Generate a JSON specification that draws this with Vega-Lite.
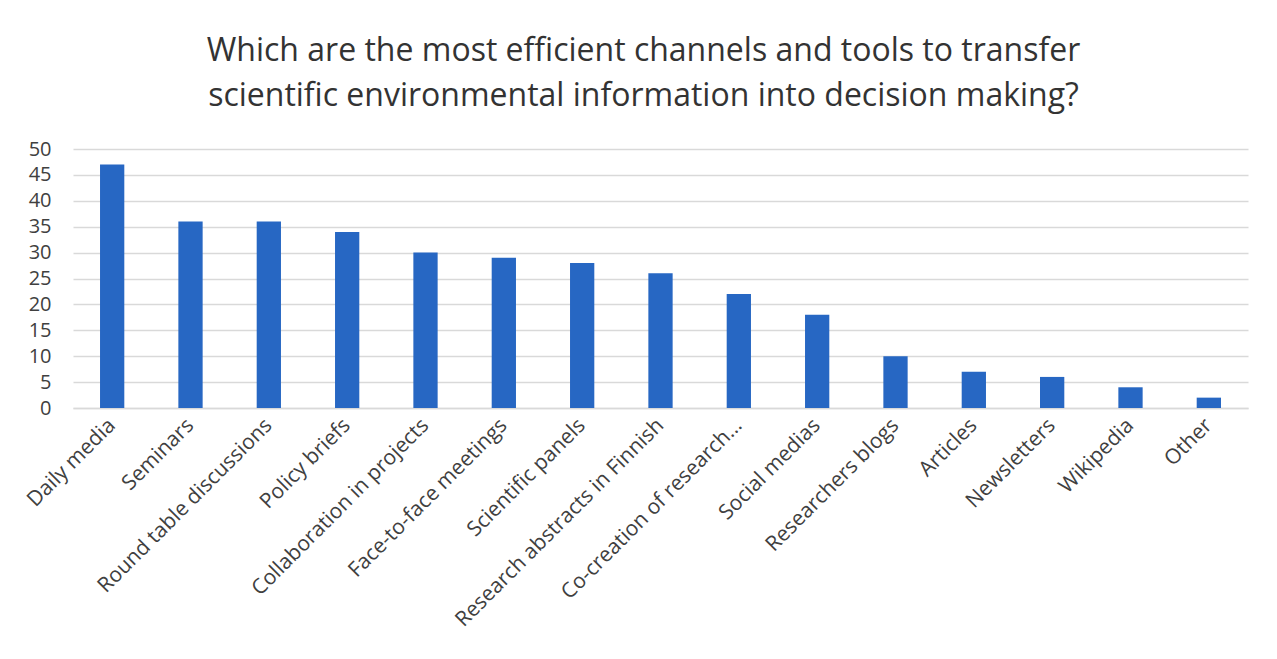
{
  "$schema": "https://vega.github.io/schema/vega-lite/v6.json",
  "width": 1175,
  "height": 259,
  "autosize": {"type": "none"},
  "padding": {"left": 73, "top": 149, "right": 29, "bottom": 251},
  "background": "white",
  "title": {
    "text": ["Which are the most efficient channels and tools to transfer", "scientific environmental information into decision making?"],
    "font": "Open Sans",
    "fontSize": 32,
    "fontWeight": "normal",
    "color": "#333333",
    "lineHeight": 45,
    "anchor": "middle",
    "dx": -17,
    "offset": 26
  },
  "data": {
    "values": [
      {"channel": "Daily media", "count": 47},
      {"channel": "Seminars", "count": 36},
      {"channel": "Round table discussions", "count": 36},
      {"channel": "Policy briefs", "count": 34},
      {"channel": "Collaboration in projects", "count": 30},
      {"channel": "Face-to-face meetings", "count": 29},
      {"channel": "Scientific panels", "count": 28},
      {"channel": "Research abstracts in Finnish", "count": 26},
      {"channel": "Co-creation of research…", "count": 22},
      {"channel": "Social medias", "count": 18},
      {"channel": "Researchers blogs", "count": 10},
      {"channel": "Articles", "count": 7},
      {"channel": "Newsletters", "count": 6},
      {"channel": "Wikipedia", "count": 4},
      {"channel": "Other", "count": 2}
    ]
  },
  "mark": {"type": "bar", "color": "#2767C3"},
  "encoding": {
    "x": {
      "field": "channel",
      "type": "nominal",
      "sort": null,
      "scale": {"paddingInner": 0.69, "paddingOuter": 0.345},
      "axis": {
        "title": null,
        "labelAngle": -45,
        "labelAlign": "right",
        "labelBaseline": "middle",
        "labelFont": "Open Sans",
        "labelFontSize": 21,
        "labelColor": "#404040",
        "labelPadding": 14,
        "ticks": false,
        "domainColor": "#d9d9d9",
        "domainWidth": 1.5,
        "labelLimit": 400
      }
    },
    "y": {
      "field": "count",
      "type": "quantitative",
      "scale": {"domain": [0, 50]},
      "axis": {
        "title": null,
        "values": [0, 5, 10, 15, 20, 25, 30, 35, 40, 45, 50],
        "labelFont": "Open Sans",
        "labelFontSize": 20,
        "labelColor": "#404040",
        "labelPadding": 22,
        "ticks": false,
        "domain": false,
        "gridColor": "#d9d9d9",
        "gridWidth": 1.5
      }
    }
  },
  "config": {"view": {"stroke": null}}
}
